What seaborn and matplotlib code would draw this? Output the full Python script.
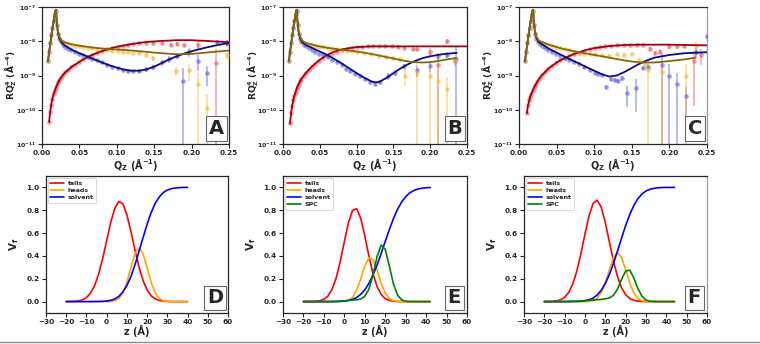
import numpy as np
import matplotlib
matplotlib.use("Agg")
import matplotlib.pyplot as plt
from matplotlib.ticker import FixedLocator, NullLocator, FormatStrFormatter
from matplotlib.lines import Line2D
import seaborn as sns

# ---------------- reflectivity data (log10 of R*Qz^4) ----------------
# Panel A fits
qA_fit_y = [0.008,0.010,0.012,0.014,0.016,0.0175,0.0185,0.0195,0.021,0.023,0.026,0.03,0.04,0.05,0.06,0.07,0.08,0.09,0.10,0.12,0.14,0.16,0.18,0.20,0.22,0.25]
rA_fit_y = [-8.58,-8.24,-7.93,-7.62,-7.35,-7.15,-7.08,-7.35,-7.68,-7.86,-7.97,-8.03,-8.09,-8.13,-8.16,-8.19,-8.21,-8.23,-8.24,-8.27,-8.31,-8.35,-8.38,-8.37,-8.33,-8.27]
qA_fit_b = [0.008,0.010,0.012,0.014,0.016,0.0175,0.0185,0.0195,0.021,0.023,0.026,0.03,0.04,0.05,0.06,0.07,0.08,0.09,0.10,0.11,0.12,0.13,0.14,0.15,0.16,0.17,0.18,0.19,0.20,0.22,0.235,0.25]
rA_fit_b = [-8.58,-8.24,-7.93,-7.62,-7.35,-7.15,-7.08,-7.35,-7.7,-7.9,-8.03,-8.12,-8.25,-8.35,-8.44,-8.53,-8.62,-8.7,-8.77,-8.83,-8.86,-8.86,-8.82,-8.74,-8.64,-8.53,-8.44,-8.36,-8.29,-8.18,-8.11,-8.05]
qA_fit_r = [0.0095,0.011,0.0125,0.015,0.0175,0.02,0.025,0.03,0.04,0.05,0.06,0.07,0.08,0.09,0.10,0.12,0.14,0.16,0.18,0.20,0.22,0.25]
rA_fit_r = [-10.35,-10.05,-9.83,-9.58,-9.42,-9.28,-9.07,-8.93,-8.74,-8.6,-8.47,-8.37,-8.29,-8.22,-8.16,-8.08,-8.02,-7.99,-7.97,-7.97,-7.99,-8.03]
# Panel A data points (q, log10 value, relative error)
qA_y = [0.008,0.0095,0.011,0.0125,0.014,0.0155,0.017,0.0185,0.020,0.0215,0.023,0.025,0.028,0.031,0.035,0.039,0.044,0.049,0.055,0.061,0.067,0.073,0.080,0.087,0.094,0.101,0.108,0.115,0.122,0.130,0.139,0.148,0.160,0.179,0.197,0.209,0.220,0.247]
rA_y = [-8.58,-8.3,-8.05,-7.83,-7.6,-7.4,-7.2,-7.12,-7.52,-7.78,-7.9,-7.98,-8.03,-8.06,-8.09,-8.11,-8.13,-8.15,-8.17,-8.19,-8.21,-8.23,-8.25,-8.27,-8.28,-8.29,-8.3,-8.31,-8.33,-8.34,-8.4,-8.49,-8.62,-8.87,-8.85,-9.26,-9.95,-8.4]
eA_y = [0.04,0.04,0.04,0.04,0.04,0.04,0.04,0.04,0.04,0.04,0.04,0.04,0.04,0.04,0.04,0.04,0.05,0.05,0.05,0.05,0.06,0.06,0.07,0.07,0.08,0.08,0.09,0.1,0.1,0.12,0.14,0.16,0.2,0.3,0.5,1.2,1.5,0.3]
qA_b = [0.008,0.0095,0.011,0.0125,0.014,0.0155,0.017,0.0185,0.020,0.0215,0.023,0.025,0.028,0.031,0.035,0.039,0.044,0.049,0.055,0.061,0.067,0.073,0.080,0.087,0.094,0.101,0.108,0.115,0.122,0.130,0.139,0.148,0.160,0.170,0.181,0.188,0.196,0.209,0.220,0.234,0.247]
rA_b = [-8.58,-8.3,-8.05,-7.83,-7.6,-7.4,-7.2,-7.12,-7.52,-7.8,-7.93,-8.03,-8.1,-8.16,-8.22,-8.27,-8.32,-8.36,-8.41,-8.46,-8.51,-8.56,-8.62,-8.68,-8.74,-8.79,-8.84,-8.87,-8.88,-8.87,-8.82,-8.75,-8.62,-8.52,-8.42,-9.17,-8.3,-8.58,-8.92,-8.03,-8.05]
eA_b = [0.04,0.04,0.04,0.04,0.04,0.04,0.04,0.04,0.04,0.04,0.04,0.04,0.04,0.04,0.04,0.04,0.05,0.05,0.05,0.05,0.06,0.06,0.07,0.07,0.08,0.08,0.09,0.1,0.1,0.12,0.14,0.16,0.2,0.25,0.2,1.5,0.3,0.5,0.6,0.2,0.2]
qA_r = [0.0095,0.011,0.0125,0.014,0.0155,0.017,0.0185,0.020,0.0215,0.023,0.025,0.028,0.031,0.035,0.039,0.044,0.049,0.055,0.061,0.067,0.073,0.080,0.087,0.094,0.101,0.108,0.115,0.122,0.130,0.139,0.148,0.160,0.173,0.181,0.190,0.209,0.233,0.247]
rA_r = [-10.35,-10.07,-9.85,-9.68,-9.55,-9.45,-9.36,-9.28,-9.2,-9.14,-9.07,-8.98,-8.91,-8.83,-8.76,-8.68,-8.61,-8.53,-8.46,-8.4,-8.35,-8.29,-8.24,-8.2,-8.16,-8.13,-8.1,-8.08,-8.06,-8.05,-8.05,-8.06,-8.1,-8.07,-8.1,-8.1,-8.63,-8.05]
eA_r = [0.06,0.06,0.06,0.06,0.06,0.06,0.06,0.06,0.06,0.06,0.05,0.05,0.05,0.05,0.05,0.05,0.05,0.05,0.05,0.05,0.05,0.05,0.05,0.06,0.06,0.06,0.07,0.07,0.08,0.08,0.1,0.1,0.12,0.12,0.15,0.3,1.5,0.25]

# Panel B fits
qB_fit_y = [0.008,0.010,0.012,0.014,0.016,0.0175,0.0185,0.0195,0.021,0.023,0.026,0.03,0.04,0.05,0.06,0.07,0.08,0.09,0.10,0.12,0.14,0.16,0.175,0.19,0.20,0.21,0.22,0.235]
rB_fit_y = [-8.58,-8.24,-7.93,-7.62,-7.35,-7.15,-7.08,-7.35,-7.68,-7.86,-7.98,-8.04,-8.1,-8.15,-8.19,-8.22,-8.25,-8.27,-8.3,-8.37,-8.46,-8.55,-8.61,-8.62,-8.61,-8.58,-8.54,-8.49]
qB_fit_b = [0.008,0.010,0.012,0.014,0.016,0.0175,0.0185,0.0195,0.021,0.023,0.026,0.03,0.04,0.05,0.06,0.07,0.08,0.09,0.10,0.11,0.12,0.125,0.13,0.14,0.15,0.16,0.17,0.18,0.19,0.20,0.21,0.22,0.236]
rB_fit_b = [-8.58,-8.24,-7.93,-7.62,-7.35,-7.15,-7.08,-7.35,-7.7,-7.9,-8.03,-8.1,-8.2,-8.3,-8.4,-8.52,-8.65,-8.79,-8.93,-9.06,-9.17,-9.2,-9.19,-9.08,-8.93,-8.79,-8.67,-8.57,-8.49,-8.44,-8.4,-8.37,-8.34]
qB_fit_r = [0.0095,0.011,0.0125,0.015,0.0175,0.02,0.025,0.03,0.04,0.05,0.06,0.07,0.08,0.09,0.10,0.11,0.12,0.15,0.20,0.25]
rB_fit_r = [-10.4,-10.1,-9.87,-9.62,-9.45,-9.3,-9.1,-8.95,-8.72,-8.54,-8.4,-8.3,-8.24,-8.2,-8.17,-8.16,-8.15,-8.15,-8.15,-8.15]
qB_y = [0.008,0.0095,0.011,0.0125,0.014,0.0155,0.017,0.0185,0.020,0.0215,0.023,0.025,0.028,0.031,0.035,0.039,0.044,0.049,0.055,0.061,0.067,0.073,0.080,0.087,0.094,0.101,0.110,0.120,0.130,0.140,0.150,0.159,0.166,0.182,0.200,0.211,0.223,0.234]
rB_y = [-8.58,-8.3,-8.05,-7.83,-7.6,-7.4,-7.2,-7.12,-7.52,-7.78,-7.9,-7.98,-8.04,-8.07,-8.1,-8.12,-8.14,-8.16,-8.18,-8.2,-8.22,-8.24,-8.26,-8.28,-8.29,-8.31,-8.34,-8.38,-8.42,-8.46,-8.5,-8.53,-9.0,-8.92,-9.0,-9.15,-9.38,-8.55]
eB_y = [0.04,0.04,0.04,0.04,0.04,0.04,0.04,0.04,0.04,0.04,0.04,0.04,0.04,0.04,0.04,0.04,0.05,0.05,0.05,0.05,0.06,0.06,0.07,0.07,0.08,0.08,0.09,0.1,0.1,0.12,0.14,0.16,0.5,1.1,1.1,1.1,1.2,0.2]
qB_b = [0.008,0.0095,0.011,0.0125,0.014,0.0155,0.017,0.0185,0.020,0.0215,0.023,0.025,0.028,0.031,0.035,0.039,0.044,0.049,0.055,0.061,0.067,0.073,0.080,0.086,0.091,0.098,0.105,0.112,0.118,0.125,0.132,0.143,0.152,0.164,0.182,0.200,0.211,0.223,0.235]
rB_b = [-8.58,-8.3,-8.05,-7.83,-7.6,-7.4,-7.2,-7.12,-7.52,-7.8,-7.93,-8.03,-8.1,-8.15,-8.21,-8.26,-8.31,-8.36,-8.41,-8.47,-8.54,-8.61,-8.7,-8.8,-8.88,-8.95,-9.02,-9.1,-9.2,-9.24,-9.18,-9.02,-8.92,-8.73,-8.85,-8.73,-8.44,-8.4,-8.52]
eB_b = [0.04,0.04,0.04,0.04,0.04,0.04,0.04,0.04,0.04,0.04,0.04,0.04,0.04,0.04,0.04,0.04,0.05,0.05,0.05,0.05,0.06,0.06,0.07,0.08,0.09,0.1,0.1,0.12,0.12,0.15,0.15,0.2,0.2,0.15,0.35,0.3,0.2,0.2,1.2]
qB_r = [0.0095,0.011,0.0125,0.014,0.0155,0.017,0.0185,0.020,0.0215,0.023,0.025,0.028,0.031,0.035,0.039,0.044,0.049,0.055,0.061,0.067,0.073,0.080,0.087,0.094,0.101,0.108,0.115,0.122,0.130,0.139,0.148,0.156,0.164,0.177,0.182,0.200,0.211,0.223,0.234]
rB_r = [-10.4,-10.1,-9.88,-9.72,-9.6,-9.5,-9.4,-9.32,-9.24,-9.17,-9.1,-9.0,-8.93,-8.84,-8.76,-8.67,-8.59,-8.5,-8.43,-8.36,-8.31,-8.26,-8.22,-8.19,-8.17,-8.16,-8.15,-8.14,-8.14,-8.13,-8.14,-8.16,-8.19,-8.24,-8.24,-8.3,-8.68,-8.0,-8.58]
eB_r = [0.06,0.06,0.06,0.06,0.06,0.06,0.06,0.06,0.06,0.06,0.05,0.05,0.05,0.05,0.05,0.05,0.05,0.05,0.05,0.05,0.05,0.05,0.05,0.06,0.06,0.06,0.07,0.07,0.08,0.08,0.1,0.1,0.1,0.12,0.12,0.3,1.2,0.15,0.3]

# Panel C fits
qC_fit_y = [0.008,0.010,0.012,0.014,0.016,0.0175,0.0185,0.0195,0.021,0.023,0.026,0.03,0.04,0.05,0.06,0.08,0.10,0.12,0.14,0.16,0.18,0.20,0.22,0.235]
rC_fit_y = [-8.58,-8.24,-7.93,-7.62,-7.35,-7.15,-7.08,-7.35,-7.68,-7.86,-7.97,-8.02,-8.1,-8.17,-8.23,-8.32,-8.4,-8.48,-8.56,-8.62,-8.62,-8.58,-8.53,-8.48]
qC_fit_b = [0.008,0.010,0.012,0.014,0.016,0.0175,0.0185,0.0195,0.021,0.023,0.026,0.03,0.04,0.05,0.06,0.07,0.08,0.09,0.10,0.11,0.12,0.13,0.14,0.15,0.16,0.17,0.18,0.20,0.22,0.25]
rC_fit_b = [-8.58,-8.24,-7.93,-7.62,-7.35,-7.15,-7.08,-7.35,-7.7,-7.9,-8.02,-8.08,-8.22,-8.33,-8.44,-8.55,-8.65,-8.76,-8.86,-8.96,-9.03,-9.0,-8.9,-8.78,-8.66,-8.56,-8.48,-8.4,-8.35,-8.32]
qC_fit_r = [0.0105,0.012,0.015,0.0175,0.02,0.025,0.03,0.04,0.05,0.06,0.07,0.08,0.09,0.10,0.12,0.14,0.16,0.20,0.25]
rC_fit_r = [-10.1,-9.87,-9.62,-9.47,-9.35,-9.15,-9.0,-8.78,-8.62,-8.5,-8.4,-8.32,-8.25,-8.2,-8.14,-8.11,-8.1,-8.1,-8.12]
qC_y = [0.008,0.0095,0.011,0.0125,0.014,0.0155,0.017,0.0185,0.020,0.0215,0.023,0.025,0.028,0.031,0.035,0.039,0.044,0.049,0.055,0.061,0.067,0.073,0.080,0.087,0.094,0.101,0.110,0.120,0.130,0.140,0.150,0.160,0.168,0.172,0.190,0.222,0.236]
rC_y = [-8.58,-8.3,-8.05,-7.83,-7.6,-7.4,-7.2,-7.12,-7.52,-7.78,-7.9,-7.98,-8.02,-8.05,-8.09,-8.12,-8.15,-8.18,-8.21,-8.24,-8.27,-8.3,-8.33,-8.36,-8.37,-8.38,-8.4,-8.42,-8.38,-8.4,-8.36,-8.55,-8.68,-8.85,-8.9,-9.0,-8.15]
eC_y = [0.04,0.04,0.04,0.04,0.04,0.04,0.04,0.04,0.04,0.04,0.04,0.04,0.04,0.04,0.04,0.04,0.05,0.05,0.05,0.05,0.06,0.06,0.07,0.07,0.08,0.08,0.09,0.1,0.1,0.12,0.12,0.14,0.15,1.1,1.1,1.1,0.4]
qC_b = [0.008,0.0095,0.011,0.0125,0.014,0.0155,0.017,0.0185,0.020,0.0215,0.023,0.025,0.028,0.031,0.035,0.039,0.044,0.049,0.055,0.061,0.067,0.073,0.080,0.087,0.094,0.101,0.105,0.110,0.116,0.122,0.127,0.132,0.137,0.143,0.156,0.165,0.172,0.190,0.199,0.210,0.222,0.235,0.250]
rC_b = [-8.58,-8.3,-8.05,-7.83,-7.6,-7.4,-7.2,-7.12,-7.52,-7.8,-7.93,-8.02,-8.08,-8.13,-8.2,-8.26,-8.31,-8.36,-8.42,-8.48,-8.54,-8.6,-8.67,-8.76,-8.84,-8.92,-8.95,-8.98,-9.33,-9.1,-9.12,-9.15,-9.08,-9.51,-9.36,-8.78,-8.75,-8.68,-9.0,-9.26,-9.6,-8.3,-7.85]
eC_b = [0.04,0.04,0.04,0.04,0.04,0.04,0.04,0.04,0.04,0.04,0.04,0.04,0.04,0.04,0.04,0.04,0.05,0.05,0.05,0.05,0.06,0.06,0.07,0.08,0.09,0.1,0.1,0.1,0.15,0.12,0.15,0.12,0.15,0.6,0.8,0.15,0.2,1.1,1.1,1.1,0.9,0.3,0.15]
qC_r = [0.0105,0.012,0.0135,0.015,0.0165,0.018,0.020,0.0215,0.023,0.025,0.028,0.031,0.035,0.039,0.044,0.049,0.055,0.061,0.067,0.073,0.080,0.087,0.094,0.101,0.108,0.115,0.122,0.130,0.139,0.148,0.157,0.165,0.174,0.181,0.188,0.199,0.210,0.220,0.233,0.242]
rC_r = [-10.1,-9.87,-9.72,-9.62,-9.54,-9.46,-9.37,-9.3,-9.24,-9.16,-9.06,-8.98,-8.89,-8.81,-8.72,-8.64,-8.56,-8.49,-8.43,-8.38,-8.33,-8.28,-8.24,-8.2,-8.17,-8.15,-8.13,-8.12,-8.11,-8.1,-8.1,-8.1,-8.22,-8.34,-8.3,-8.15,-8.15,-8.14,-8.58,-8.39]
eC_r = [0.06,0.06,0.06,0.06,0.06,0.06,0.06,0.06,0.06,0.06,0.05,0.05,0.05,0.05,0.05,0.05,0.05,0.05,0.05,0.05,0.05,0.05,0.05,0.06,0.06,0.06,0.07,0.07,0.08,0.08,0.1,0.1,0.12,0.12,0.15,0.15,0.15,0.15,0.95,0.5]

# ---------------- volume fraction profiles ----------------
zD = [-20,-18,-16,-14,-12,-10,-8,-6,-4,-2,0,2,4,6,8,10,12,14,16,18,20,22,24,26,28,30,32,34,36,38,40]
tailsD = [0.0,0.001,0.002,0.006,0.015,0.035,0.073,0.138,0.24,0.374,0.534,0.692,0.817,0.877,0.857,0.761,0.615,0.452,0.302,0.184,0.102,0.051,0.024,0.010,0.004,0.001,0.0,0.0,0.0,0.0,0.0]
headsD = [0,0,0,0,0,0,0,0,0,0,0,0,0.008,0.027,0.075,0.168,0.298,0.419,0.47,0.419,0.298,0.168,0.075,0.027,0.008,0.002,0,0,0,0,0]
solventD = [0,0,0,0,0,0,0,0,0.001,0.002,0.005,0.011,0.023,0.045,0.084,0.14,0.22,0.323,0.44,0.56,0.677,0.78,0.86,0.916,0.955,0.977,0.989,0.995,0.998,1.0,1.0]

zE = [-20,-18,-16,-14,-12,-10,-8,-6,-4,-2,0,2,4,6,8,10,12,14,16,18,20,22,24,26,28,30,32,34,36,38,40,42]
tailsE = [0,0,0.001,0.002,0.007,0.02,0.049,0.107,0.206,0.35,0.524,0.689,0.798,0.814,0.73,0.577,0.401,0.245,0.132,0.063,0.026,0.01,0.003,0.001,0,0,0,0,0,0,0,0]
headsE = [0,0,0,0,0,0,0,0,0,0,0.003,0.011,0.037,0.096,0.196,0.31,0.384,0.37,0.278,0.162,0.074,0.026,0.007,0.002,0,0,0,0,0,0,0,0]
solventE = [0,0,0,0,0,0,0,0,0.001,0.002,0.005,0.01,0.019,0.036,0.063,0.102,0.159,0.232,0.319,0.421,0.527,0.63,0.726,0.808,0.871,0.919,0.952,0.973,0.986,0.993,0.997,0.999]
spcE = [0,0,0,0,0,0,0,0,0.002,0.004,0.007,0.01,0.013,0.016,0.022,0.046,0.108,0.234,0.393,0.495,0.458,0.312,0.156,0.058,0.016,0.003,0,0,0,0,0,0]

zF = [-20,-18,-16,-14,-12,-10,-8,-6,-4,-2,0,2,4,6,8,10,12,14,16,18,20,22,24,26,28,30,32,34,36,38,40,42,44]
tailsF = [0,0.001,0.002,0.006,0.016,0.038,0.08,0.155,0.268,0.42,0.592,0.752,0.861,0.888,0.826,0.692,0.522,0.356,0.218,0.12,0.06,0.027,0.011,0.004,0.001,0,0,0,0,0,0,0,0]
headsF = [0,0,0,0,0,0,0,0,0,0,0,0.002,0.009,0.029,0.076,0.163,0.279,0.386,0.43,0.386,0.279,0.163,0.076,0.029,0.009,0.002,0,0,0,0,0,0,0]
solventF = [0,0,0,0,0,0,0,0,0.001,0.003,0.008,0.016,0.031,0.058,0.099,0.159,0.238,0.334,0.443,0.557,0.666,0.762,0.841,0.901,0.942,0.969,0.984,0.992,0.997,0.999,1.0,1.0,1.0]
spcF = [0,0,0,0,0,0.001,0.002,0.003,0.004,0.006,0.008,0.011,0.014,0.016,0.019,0.024,0.032,0.055,0.11,0.195,0.268,0.275,0.208,0.115,0.047,0.014,0.003,0.001,0,0,0,0,0]

top_xticks = [0.0, 0.05, 0.10, 0.15, 0.20, 0.25]
top_yticks = [1e-11, 1e-10, 1e-9, 1e-8, 1e-7]
bot_xticks = [-30, -20, -10, 0, 10, 20, 30, 40, 50, 60]
bot_yticks = [0.0, 0.2, 0.4, 0.6, 0.8, 1.0]
panel_letters = ["A", "B", "C", "D", "E", "F"]

# ---------------- style ----------------
sns.set_style("ticks")
plt.rcParams["font.family"] = ["DejaVu Sans"]
plt.rcParams["font.weight"] = "bold"
plt.rcParams["axes.labelweight"] = "bold"
plt.rcParams["mathtext.default"] = "bf"
plt.rcParams["axes.linewidth"] = 0.9

PT_R, PT_Y, PT_B = "#e8585c", "#f7b733", "#5d5fe0"
FIT_R, FIT_Y, FIT_B = "#a30012", "#86670c", "#0c0c86"

fig = plt.figure(figsize=(7.6, 3.44), dpi=100)
W, H = 760.0, 344.0

def add_ax(x0, y0, x1, y1):
    return fig.add_axes([x0 / W, 1 - y1 / H, (x1 - x0) / W, (y1 - y0) / H])

axA = add_ax(42, 7, 229, 144)
axB = add_ax(283, 7, 467, 144)
axC = add_ax(519, 7, 707, 144)
axD = add_ax(46, 176, 228, 313)
axE = add_ax(283, 176, 467, 313)
axF = add_ax(524, 176, 707, 313)


def draw_points(ax, q, r, e, col):
    q = np.asarray(q); R = np.power(10.0, np.asarray(r)); e = np.asarray(e)
    lo = R * np.minimum(e, 0.9999)
    hi = R * e
    ax.errorbar(q, R, yerr=[lo, hi], fmt="none", ecolor=col, alpha=0.55, elinewidth=1.1, zorder=2)
    sns.scatterplot(x=q, y=R, ax=ax, color=col, alpha=0.6, s=11, linewidth=0, zorder=3)


def draw_fit(ax, q, r, col):
    sns.lineplot(x=q, y=np.power(10.0, np.asarray(r)), ax=ax, color=col, lw=1.3,
                 sort=False, estimator=None, zorder=4)


def style_top(ax, letter):
    ax.set_yscale("log")
    ax.set_xlim(0, 0.25)
    ax.set_ylim(1e-11, 1e-7)
    ax.xaxis.set_major_locator(FixedLocator(top_xticks))
    ax.xaxis.set_major_formatter(FormatStrFormatter("%.2f"))
    ax.yaxis.set_major_locator(FixedLocator(top_yticks))
    ax.yaxis.set_minor_locator(NullLocator())
    ax.tick_params(axis="x", labelsize=5.3, length=3, width=0.8, pad=1.5)
    ax.tick_params(axis="y", labelsize=4.6, length=3, width=0.8, pad=1.0)
    ax.set_xlabel("Q$_Z$ (Å$^{-1}$)", fontsize=7, labelpad=0)
    ax.set_ylabel("RQ$_Z^4$ (Å$^{-4}$)", fontsize=6.6)
    ax.yaxis.set_label_coords(-0.162, 0.5)
    ax.yaxis.label.set_va("center")
    ax.text(0.935, 0.115, letter, transform=ax.transAxes, fontsize=14, fontweight="bold",
            ha="center", va="center", zorder=6,
            bbox=dict(boxstyle="square,pad=0.15", fc="white", ec="#666666", lw=0.8))


def style_bot(ax, letter):
    ax.set_xlim(-30, 60)
    ax.set_ylim(-0.1, 1.1)
    ax.xaxis.set_major_locator(FixedLocator(bot_xticks))
    ax.yaxis.set_major_locator(FixedLocator(bot_yticks))
    ax.yaxis.set_major_formatter(FormatStrFormatter("%.1f"))
    ax.tick_params(labelsize=5.3, length=3, width=0.8, pad=1.5)
    ax.set_xlabel("z (Å)", fontsize=7, labelpad=0)
    ax.set_ylabel("V$_f$", fontsize=7.5, labelpad=4)
    ax.text(0.93, 0.11, letter, transform=ax.transAxes, fontsize=14, fontweight="bold",
            ha="center", va="center", zorder=6,
            bbox=dict(boxstyle="square,pad=0.15", fc="white", ec="#666666", lw=0.8))


top_sets = [
    (axA, (qA_r, rA_r, eA_r), (qA_y, rA_y, eA_y), (qA_b, rA_b, eA_b),
     (qA_fit_r, rA_fit_r), (qA_fit_y, rA_fit_y), (qA_fit_b, rA_fit_b)),
    (axB, (qB_r, rB_r, eB_r), (qB_y, rB_y, eB_y), (qB_b, rB_b, eB_b),
     (qB_fit_r, rB_fit_r), (qB_fit_y, rB_fit_y), (qB_fit_b, rB_fit_b)),
    (axC, (qC_r, rC_r, eC_r), (qC_y, rC_y, eC_y), (qC_b, rC_b, eC_b),
     (qC_fit_r, rC_fit_r), (qC_fit_y, rC_fit_y), (qC_fit_b, rC_fit_b)),
]
for i, (ax, pr, py, pb, fr, fy, fb) in enumerate(top_sets):
    draw_points(ax, *pr, PT_R)
    draw_points(ax, *pb, PT_B)
    draw_points(ax, *py, PT_Y)
    draw_fit(ax, *fr, FIT_R)
    draw_fit(ax, *fb, FIT_B)
    draw_fit(ax, *fy, FIT_Y)
    style_top(ax, panel_letters[i])

bot_sets = [
    (axD, zD, [("tails", tailsD, "red"), ("heads", headsD, "orange"), ("solvent", solventD, "blue")]),
    (axE, zE, [("tails", tailsE, "red"), ("heads", headsE, "orange"), ("solvent", solventE, "blue"), ("SPC", spcE, "green")]),
    (axF, zF, [("tails", tailsF, "red"), ("heads", headsF, "orange"), ("solvent", solventF, "blue"), ("SPC", spcF, "green")]),
]
for i, (ax, z, series) in enumerate(bot_sets):
    for name, vals, col in series:
        sns.lineplot(x=z, y=vals, ax=ax, color=col, lw=1.2, label=name, sort=False, estimator=None)
    leg = ax.legend(loc="upper left", fontsize=4.5, frameon=True, handlelength=2.2,
                    borderpad=0.4, labelspacing=0.3, handletextpad=0.6, borderaxespad=0.3)
    leg.get_frame().set_linewidth(0.5)
    leg.get_frame().set_edgecolor("#bbbbbb")
    style_bot(ax, panel_letters[3 + i])

for ax in (axC, axF):
    ax.spines["right"].set_color("#9a9a9a")

fig.add_artist(Line2D([0, 1], [1 - 342 / H, 1 - 342 / H], transform=fig.transFigure,
                      color="#8a8a8a", lw=1.0))

fig.savefig("out.png", dpi=100)
